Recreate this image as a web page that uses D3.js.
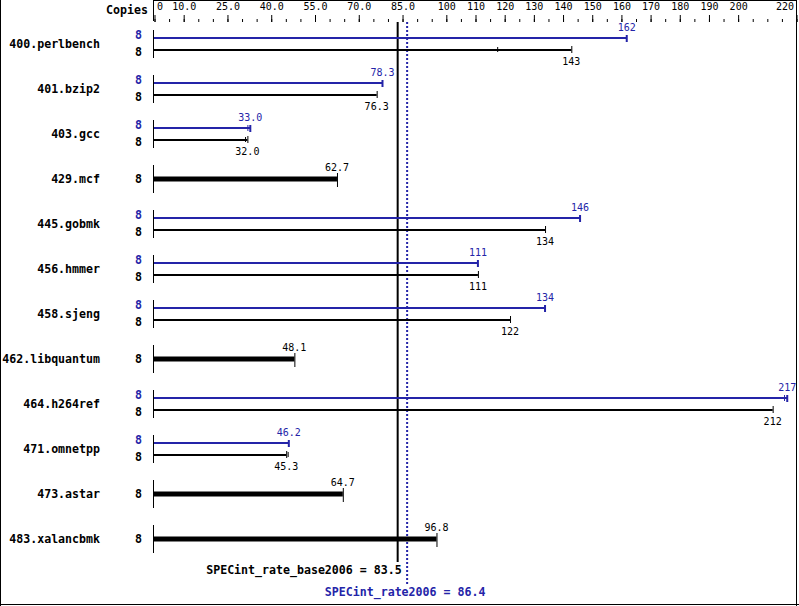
<!DOCTYPE html>
<html><head><meta charset="utf-8">
<script src="https://cdn.jsdelivr.net/npm/d3@7"></script>
<style>body{margin:0;background:#fff}svg{display:block}</style>
</head><body>
<script>
const benchmarks = ["400.perlbench","401.bzip2","403.gcc","429.mcf","445.gobmk","456.hmmer","458.sjeng","462.libquantum","464.h264ref","471.omnetpp","473.astar","483.xalancbmk"];
const baseValues = [143, 76.3, 32.0, 62.7, 134, 111, 122, 48.1, 212, 45.3, 64.7, 96.8];
const peakValues = [162, 78.3, 33.0, null, 146, 111, 134, null, 217, 46.2, null, null];
const baseCopies = [8,8,8,8,8,8,8,8,8,8,8,8];
const peakCopies = [8,8,8,null,8,8,8,null,8,8,null,null];
const baseRunTicks = [[117.6],[],[31.2],[],[],[],[],[],[],[45.8],[],[]];
const peakRunTicks = [[],[],[32.0],[],[],[],[],[],[215.9],[],[],[]];
const majorTicks = [0,10,25,40,55,70,85,100,110,120,130,140,150,160,170,180,190,200,220];
const minorTicks = d3.range(0, 221, 5);
const baseMean = 83.5, peakMean = 86.4;
const baseMeanLabel = "SPECint_rate_base2006 = 83.5";
const peakMeanLabel = "SPECint_rate2006 = 86.4";

const W = 799, H = 606;
const BLUE = "#2424a8";
const mono = "'DejaVu Sans Mono', 'Liberation Mono', monospace";
const svg = d3.select("body").append("svg").attr("width", W).attr("height", H);

const x = d3.scaleLinear().domain([0, 220]).range([154, 796]);
const y = d3.scalePoint().domain(benchmarks).range([44, 539]);

// frame
svg.append("line").attr("x1",0.5).attr("x2",0.5).attr("y1",0).attr("y2",H).attr("stroke","#000");
svg.append("line").attr("x1",0).attr("x2",W).attr("y1",H-1.5).attr("y2",H-1.5).attr("stroke","#000");
svg.append("line").attr("x1",796.5).attr("x2",796.5).attr("y1",0).attr("y2",H).attr("stroke","#000");
svg.append("line").attr("x1",153).attr("x2",797).attr("y1",0.5).attr("y2",0.5).attr("stroke","#000");
svg.append("line").attr("x1",153.5).attr("x2",153.5).attr("y1",0).attr("y2",21).attr("stroke","#000");

svg.append("text").attr("x",148).attr("y",14).attr("text-anchor","end")
  .attr("font-family",mono).attr("font-weight","bold").attr("font-size","11.6px").text("Copies");

// axes
const axMinor = d3.axisTop(x).tickValues(minorTicks).tickSize(3).tickFormat("");
const gMin = svg.append("g").attr("transform","translate(0.5,22)").call(axMinor);
const axMajor = d3.axisTop(x).tickValues(majorTicks).tickSize(7).tickPadding(5)
  .tickFormat(d => d < 100 ? (d === 0 ? "0" : d3.format(".1f")(d)) : String(d));
const gMaj = svg.append("g").attr("transform","translate(0.5,22)").call(axMajor);
[gMin, gMaj].forEach(g => { g.select(".domain").remove(); g.selectAll("line").attr("stroke","#000"); });
gMaj.selectAll("text").attr("font-family",mono).attr("font-size","10px").attr("fill","#000");
gMaj.selectAll(".tick").filter(d => d === 0).select("text").attr("text-anchor","start").attr("dx", 2);
gMaj.selectAll(".tick").filter(d => d === 220).select("text").attr("text-anchor","end").attr("dx", -3);

// mean lines
svg.append("line").attr("x1",x(baseMean)).attr("x2",x(baseMean)).attr("y1",22).attr("y2",562)
  .attr("stroke","#000").attr("stroke-width",2);
svg.append("line").attr("x1",x(peakMean)+1).attr("x2",x(peakMean)+1).attr("y1",22).attr("y2",584)
  .attr("stroke",BLUE).attr("stroke-width",2).attr("stroke-dasharray","2,2");
svg.append("text").attr("x",x(baseMean)+4).attr("y",574).attr("text-anchor","end")
  .attr("font-family",mono).attr("font-weight","bold").attr("font-size","11.6px").text(baseMeanLabel);
svg.append("text").attr("x",x(peakMean)-1).attr("y",596).attr("text-anchor","middle").attr("fill",BLUE)
  .attr("font-family",mono).attr("font-weight","bold").attr("font-size","11.6px").text(peakMeanLabel);

const fmt = d3.format(".3r");

benchmarks.forEach((b, i) => {
  const cy = y(b);
  const g = svg.append("g");
  g.append("text").attr("x",100).attr("y",cy+4).attr("text-anchor","end")
    .attr("font-family",mono).attr("font-weight","bold").attr("font-size","11.6px").text(b);
  g.append("line").attr("x1",153.5).attr("x2",153.5).attr("y1",cy-14).attr("y2",cy+14).attr("stroke","#000");
  const pv = peakValues[i], bv = baseValues[i];
  if (pv == null) {
    g.append("text").attr("x",142).attr("y",cy+4).attr("text-anchor","end")
      .attr("font-family",mono).attr("font-weight","bold").attr("font-size","11.6px").text(baseCopies[i]);
    g.append("rect").attr("x",x(0)).attr("y",cy-2.5).attr("width",x(bv)-x(0)).attr("height",5).attr("fill","#000");
    g.append("line").attr("x1",x(bv)+0.5).attr("x2",x(bv)+0.5).attr("y1",cy-6).attr("y2",cy+8).attr("stroke","#000");
    g.append("text").attr("x",x(bv)).attr("y",cy-8).attr("text-anchor","middle")
      .attr("font-family",mono).attr("font-size","10px").text(fmt(bv));
  } else {
    const py = cy - 6, by = cy + 6;
    g.append("text").attr("x",142).attr("y",py+0.5).attr("text-anchor","end").attr("fill",BLUE)
      .attr("font-family",mono).attr("font-weight","bold").attr("font-size","11.6px").text(peakCopies[i]);
    g.append("text").attr("x",142).attr("y",by+6).attr("text-anchor","end")
      .attr("font-family",mono).attr("font-weight","bold").attr("font-size","11.6px").text(baseCopies[i]);
    g.append("rect").attr("x",x(0)).attr("y",py-1).attr("width",x(pv)-x(0)).attr("height",2).attr("fill",BLUE);
    g.append("rect").attr("x",x(pv)-1).attr("y",py-3).attr("width",2).attr("height",7).attr("fill",BLUE);
    peakRunTicks[i].forEach(v => g.append("line").attr("x1",x(v)+0.5).attr("x2",x(v)+0.5)
      .attr("y1",py-3).attr("y2",py+3).attr("stroke",BLUE));
    g.append("text").attr("x",x(pv)).attr("y",py-7).attr("text-anchor","middle").attr("fill",BLUE)
      .attr("font-family",mono).attr("font-size","10px").text(fmt(pv));
    g.append("rect").attr("x",x(0)).attr("y",by-1).attr("width",x(bv)-x(0)).attr("height",2).attr("fill","#000");
    g.append("line").attr("x1",x(bv)+0.5).attr("x2",x(bv)+0.5).attr("y1",by-4).attr("y2",by+3).attr("stroke","#000");
    baseRunTicks[i].forEach(v => g.append("line").attr("x1",x(v)+0.5).attr("x2",x(v)+0.5)
      .attr("y1",by-3).attr("y2",by+2).attr("stroke","#000"));
    g.append("text").attr("x",x(bv)).attr("y",by+15).attr("text-anchor","middle")
      .attr("font-family",mono).attr("font-size","10px").text(fmt(bv));
  }
});
</script>
</body></html>
